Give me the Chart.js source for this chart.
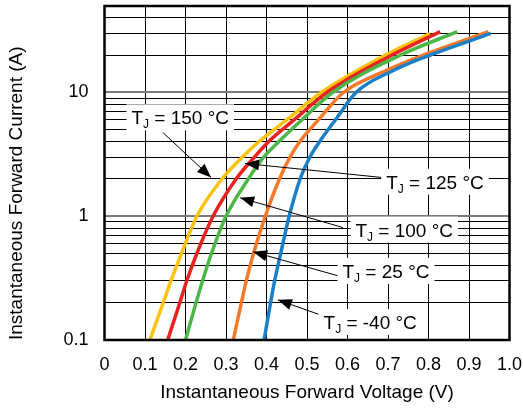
<!DOCTYPE html>
<html>
<head>
<meta charset="utf-8">
<script src="https://cdn.jsdelivr.net/npm/chart.js@4/dist/chart.umd.min.js"></script>
<style>
  html, body { margin: 0; padding: 0; background: #fff; }
  #wrap { width: 523px; height: 408px; }
</style>
</head>
<body>
<div id="wrap"><canvas id="myChart"></canvas></div>
<script>
// tick labels
const voltageTicks = ["0", "0.1", "0.2", "0.3", "0.4", "0.5", "0.6", "0.7", "0.8", "0.9", "1.0"];
const currentGrid = [0.1, 0.2, 0.3, 0.4, 0.5, 0.6, 0.7, 0.8, 0.9, 1, 2, 3, 4, 5, 6, 7, 8, 9, 10, 20, 30, 40, 50];
const currentLabels = [0.1, 1, 10];

// curves (V, A)
const tj150V = [0.112, 0.145, 0.164, 0.19, 0.228, 0.29, 0.34, 0.381, 0.45, 0.535, 0.693, 0.804];
const tj150I = [0.1, 0.2, 0.3, 0.5, 1, 2, 3, 4, 6, 10, 20, 30];
const tj125V = [0.156, 0.186, 0.203, 0.228, 0.268, 0.325, 0.37, 0.405, 0.468, 0.549, 0.709, 0.829];
const tj125I = [0.1, 0.2, 0.3, 0.5, 1, 2, 3, 4, 6, 10, 20, 31];
const tj100V = [0.2, 0.226, 0.242, 0.264, 0.3, 0.355, 0.393, 0.43, 0.487, 0.563, 0.73, 0.871];
const tj100I = [0.1, 0.2, 0.3, 0.5, 1, 2, 3, 4, 6, 10, 20, 31];
const tj25V = [0.318, 0.338, 0.35, 0.368, 0.397, 0.432, 0.458, 0.482, 0.528, 0.59, 0.695, 0.787, 0.948];
const tj25I = [0.1, 0.2, 0.3, 0.5, 1, 2, 3, 4, 6, 10, 15, 20, 31];
const tjm40V = [0.394, 0.41, 0.42, 0.435, 0.456, 0.483, 0.507, 0.531, 0.57, 0.621, 0.712, 0.803, 0.954];
const tjm40I = [0.1, 0.2, 0.3, 0.5, 1, 2, 3, 4, 6, 10, 15, 20, 30];

// callouts: text after "T_J", label centre, line start, arrow tip (V, A)
const callouts = [
  { text: " = 150 °C", label: [0.187, 6.3], from: [0.144, 4.75], to: [0.263, 2.06] },
  { text: " = 125 °C", label: [0.816, 1.9], from: [0.683, 2.06], to: [0.347, 2.67] },
  { text: " = 100 °C", label: [0.74, 0.78], from: [0.589, 0.81], to: [0.335, 1.41] },
  { text: " = 25 °C", label: [0.695, 0.362], from: [0.594, 0.318], to: [0.367, 0.516] },
  { text: " = -40 °C", label: [0.656, 0.14], from: [0.532, 0.16], to: [0.428, 0.211] },
];

const FONT = "'Liberation Sans', Arial, sans-serif";

function pts(xs, ys) {
  return xs.map((x, i) => ({ x: x, y: ys[i] }));
}

function serie(label, xs, ys, color) {
  return {
    label: label,
    data: pts(xs, ys),
    borderColor: color,
    backgroundColor: color,
    borderWidth: 3.5,
    pointRadius: 0,
    cubicInterpolationMode: "monotone",
    fill: false,
  };
}

const calloutPlugin = {
  id: "callouts",
  afterDatasetsDraw(chart) {
    const ctx = chart.ctx;
    const xs = chart.scales.x;
    const ys = chart.scales.y;
    const a = chart.chartArea;

    // frame
    ctx.save();
    ctx.strokeStyle = "#000";
    ctx.lineWidth = 2.5;
    ctx.strokeRect(a.left, a.top, a.right - a.left, a.bottom - a.top);
    ctx.restore();

    callouts.forEach((c) => {
      const x0 = xs.getPixelForValue(c.from[0]);
      const y0 = ys.getPixelForValue(c.from[1]);
      const x1 = xs.getPixelForValue(c.to[0]);
      const y1 = ys.getPixelForValue(c.to[1]);
      ctx.save();
      ctx.strokeStyle = "#000";
      ctx.fillStyle = "#000";
      ctx.lineWidth = 1;
      ctx.beginPath();
      ctx.moveTo(x0, y0);
      ctx.lineTo(x1, y1);
      ctx.stroke();
      // arrow head
      const ang = Math.atan2(y1 - y0, x1 - x0);
      const len = 14, half = 5.5;
      ctx.beginPath();
      ctx.moveTo(x1, y1);
      ctx.lineTo(x1 - len * Math.cos(ang) + half * Math.sin(ang), y1 - len * Math.sin(ang) - half * Math.cos(ang));
      ctx.lineTo(x1 - len * Math.cos(ang) - half * Math.sin(ang), y1 - len * Math.sin(ang) + half * Math.cos(ang));
      ctx.closePath();
      ctx.fill();

      // label
      const lx = xs.getPixelForValue(c.label[0]);
      const ly = ys.getPixelForValue(c.label[1]);
      ctx.font = "19px " + FONT;
      const wT = ctx.measureText("T").width;
      const wRest = ctx.measureText(c.text).width;
      ctx.font = "12px " + FONT;
      const wJ = ctx.measureText("J").width;
      const w = wT + wJ + wRest;
      const pad = 5;
      ctx.fillStyle = "#fff";
      ctx.fillRect(lx - w / 2 - pad, ly - 13, w + 2 * pad, 26);
      ctx.fillStyle = "#000";
      ctx.textBaseline = "alphabetic";
      ctx.textAlign = "left";
      let x = lx - w / 2;
      const base = ly + 7;
      ctx.font = "19px " + FONT;
      ctx.fillText("T", x, base);
      x += wT;
      ctx.font = "12px " + FONT;
      ctx.fillText("J", x, base + 4);
      x += wJ;
      ctx.font = "19px " + FONT;
      ctx.fillText(c.text, x, base);
      ctx.restore();
    });
  },
};

const config = {
  type: "line",
  data: {
    datasets: [
      serie("TJ = -40 °C", tjm40V, tjm40I, "#1a7fc7"),
      serie("TJ = 25 °C", tj25V, tj25I, "#f47a2a"),
      serie("TJ = 100 °C", tj100V, tj100I, "#4cb748"),
      serie("TJ = 125 °C", tj125V, tj125I, "#e8231f"),
      serie("TJ = 150 °C", tj150V, tj150I, "#fdc20e"),
    ],
  },
  options: {
    responsive: true,
    maintainAspectRatio: false,
    animation: false,
    layout: { padding: { top: 6, right: 13.5, left: 5, bottom: 0 } },
    plugins: {
      legend: { display: false },
      tooltip: { enabled: false },
    },
    scales: {
      x: {
        type: "linear",
        min: 0,
        max: 1,
        ticks: {
          stepSize: 0.1,
          color: "#000",
          padding: 14,
          maxRotation: 0,
          font: { family: FONT, size: 18 },
          callback: (v, i) => voltageTicks[i],
        },
        grid: { color: "#000", lineWidth: 1, drawTicks: false },
        border: { display: false },
        title: {
          display: true,
          text: "Instantaneous Forward Voltage (V)",
          color: "#000",
          font: { family: FONT, size: 19 },
          padding: { top: 8, bottom: 4 },
        },
        afterFit: (s) => {
          s.height = 68;
          s.paddingLeft = 0;
          s.paddingRight = 0;
        },
      },
      y: {
        type: "logarithmic",
        min: 0.1,
        max: 50,
        afterBuildTicks: (s) => {
          s.ticks = currentGrid.map((v) => ({ value: v, major: currentLabels.includes(v) }));
        },
        ticks: {
          color: "#000",
          padding: 16,
          autoSkip: false,
          font: { family: FONT, size: 18 },
          callback: (v) => (currentLabels.includes(v) ? String(v) : ""),
        },
        grid: {
          drawTicks: false,
          color: (c) => (currentLabels.includes(c.tick.value) ? "#7a7a7a" : "#000"),
          lineWidth: (c) => (currentLabels.includes(c.tick.value) ? 2 : 1),
        },
        border: { display: false },
        title: {
          display: true,
          text: "Instantaneous Forward Current (A)",
          align: "start",
          color: "#000",
          font: { family: FONT, size: 19 },
          padding: { top: 0, bottom: 6 },
        },
        afterFit: (s) => {
          s.width = 99.5;
          s.paddingTop = 0;
          s.paddingBottom = 0;
        },
      },
    },
  },
  plugins: [calloutPlugin],
};

const ctx = document.getElementById("myChart").getContext("2d");
new Chart(ctx, config);
</script>
</body>
</html>
